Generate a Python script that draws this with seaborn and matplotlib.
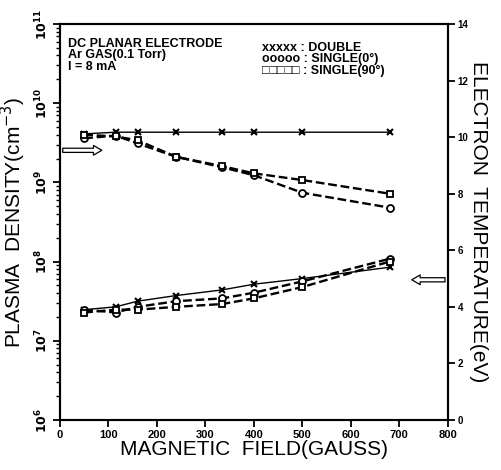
import numpy as np
import pandas as pd
import matplotlib
matplotlib.use("Agg")
import matplotlib.pyplot as plt
import seaborn as sns

# magnetic field (gauss)
field = [50, 115, 160, 240, 335, 400, 500, 680]

# plasma density (cm^-3), left log axis
dens_double = [4.1e9, 4.3e9, 4.3e9, 4.3e9, 4.3e9, 4.3e9, 4.3e9, 4.3e9]
dens_single0 = [3.6e9, 3.9e9, 3.1e9, 2.1e9, 1.55e9, 1.23e9, 7.4e8, 4.8e8]
dens_single90 = [4.0e9, 3.8e9, 3.4e9, 2.1e9, 1.6e9, 1.3e9, 1.07e9, 7.2e8]

# electron temperature (eV), right axis
temp_double = [3.9, 4.0, 4.2, 4.4, 4.6, 4.8, 5.0, 5.4]
temp_single0 = [3.9, 3.8, 4.0, 4.2, 4.3, 4.5, 4.9, 5.7]
temp_single90 = [3.8, 3.9, 3.9, 4.0, 4.1, 4.3, 4.7, 5.6]

left_ticks = [1e6, 1e7, 1e8, 1e9, 1e10, 1e11]
right_ticks = [0, 2, 4, 6, 8, 10, 12, 14]
x_ticks = [0, 100, 200, 300, 400, 500, 600, 700, 800]

sns.set_style("ticks")
plt.rcParams['font.family'] = ['Liberation Sans', 'DejaVu Sans']
plt.rcParams.update({'text.color': 'black', 'axes.labelcolor': 'black',
                     'xtick.color': 'black', 'ytick.color': 'black'})

fig = plt.figure(figsize=(5.02, 4.70), dpi=100)
ax = fig.add_axes([0.1195, 0.1064, 0.7725, 0.8426])
ax2 = ax.twinx()

styles = {
    'double': dict(ls='-', lw=1.0, marker='x', ms=4, mew=1.5),
    'single0': dict(ls='--', lw=1.7, marker='o', ms=5, mew=1.3, mfc='white'),
    'single90': dict(ls='--', lw=1.7, marker='s', ms=5, mew=1.3, mfc='white', dashes=(5, 3)),
}

for vals, key in [(dens_double, 'double'), (dens_single0, 'single0'), (dens_single90, 'single90')]:
    sns.lineplot(x=field, y=vals, ax=ax, color='black', mec='black', **styles[key])
for vals, key in [(temp_double, 'double'), (temp_single0, 'single0'), (temp_single90, 'single90')]:
    sns.lineplot(x=field, y=vals, ax=ax2, color='black', mec='black', **styles[key])

ax.set_yscale('log')
ax.set_ylim(1e6, 1e11)
ax.set_xlim(0, 800)
ax.set_xticks(x_ticks)
ax.set_xticklabels([str(v) for v in x_ticks], fontsize=8, fontweight='bold')
ax.set_yticks(left_ticks)
ax.set_yticklabels([r'$\mathbf{10^{%d}}$' % int(np.log10(v)) for v in left_ticks],
                   rotation=90, va='center', fontsize=9)
ax2.set_ylim(0, 14)
ax2.set_yticks(right_ticks)
ax2.set_yticklabels([str(v) for v in right_ticks], fontsize=7, fontweight='bold')

for a in (ax, ax2):
    for s in a.spines.values():
        s.set_linewidth(1.5)
        s.set_color('black')
ax.tick_params(axis='both', which='major', direction='out', length=5, width=1.3, pad=2)
ax.tick_params(axis='y', which='minor', direction='out', length=3, width=1.0)
ax2.tick_params(axis='y', which='major', direction='out', length=5, width=1.3, pad=2)

ax.set_xlabel('MAGNETIC  FIELD(GAUSS)', fontsize=15, labelpad=0)
ax.set_ylabel(r'PLASMA  DENSITY(cm$^{-3}$)', fontsize=15, labelpad=4)
ax2.set_ylabel('ELECTRON  TEMPERATURE(eV)', fontsize=15, rotation=-90, labelpad=14)

ax.text(0.02, 0.965, 'DC PLANAR ELECTRODE\nAr GAS(0.1 Torr)\nI = 8 mA',
        transform=ax.transAxes, fontsize=9, fontweight='bold', va='top', ha='left',
        linespacing=0.95)
ax.text(0.52, 0.955, 'xxxxx : DOUBLE\nooooo : SINGLE(0°)\n□□□□□ : SINGLE(90°)',
        transform=ax.transAxes, fontsize=9, fontweight='bold', va='top', ha='left',
        linespacing=0.95)

arrow = dict(arrowstyle='simple,head_width=0.7,head_length=0.6,tail_width=0.3',
             fc='white', ec='black', lw=0.9)
ax.annotate('', xy=(0.115, 0.681), xytext=(0.0, 0.681), xycoords='axes fraction',
            arrowprops=arrow)
ax.annotate('', xy=(0.9, 0.354), xytext=(1.0, 0.354), xycoords='axes fraction',
            arrowprops=arrow)

fig.savefig('out.png', dpi=100)
